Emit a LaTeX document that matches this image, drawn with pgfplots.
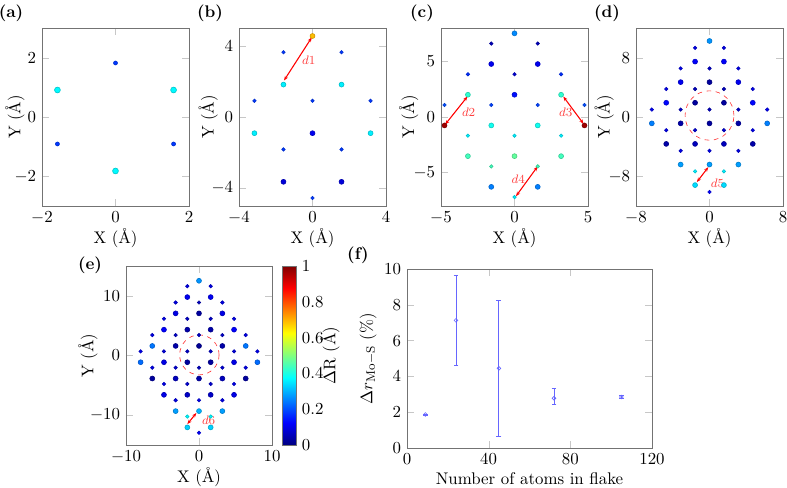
\documentclass[11pt,border=0pt]{standalone}
\usepackage{pgfplots}
\pgfplotsset{compat=1.18}
\usetikzlibrary{arrows.meta}
\pgfplotsset{
  panel/.style={scale only axis, anchor=north west, width=95.55pt, height=115.7pt,
    axis line style={black!55}, tick style={black!22},
    xlabel={X (\AA)}, ylabel={Y (\AA)}, xlab,
    colormap/jet, point meta min=0, point meta max=1},
  ylab/.style={ylabel style={at={(axis description cs:#1,0.5)}, anchor=center}},
  xlab/.style={xlabel style={at={(axis description cs:0.5,-0.178)}, anchor=center}},
  atomB/.style={scatter, only marks, mark=*, mark size=1.6pt, scatter src=explicit},
  atomS/.style={scatter, only marks, mark=*, mark size=1.12pt, scatter src=explicit},
}
\tikzset{
  darrow/.style={{Stealth[length=3pt]}-{Stealth[length=3pt]}, red, line width=0.7pt},
  dlab/.style={text=red!75, font=\scriptsize},
}
\begin{document}
\begin{tikzpicture}
\useasboundingbox (0,0) rectangle (511.55pt,-317.2pt);
% (a)
\begin{axis}[panel, ylab=-0.184, at={(27.3pt,-18.2pt)}, xmin=-2, xmax=2, ymin=-3, ymax=3,
  xtick={-2,0,2}, ytick={-2,0,2}]
\addplot[atomB, mark size=1.9pt] table[meta=c]{
x y c
-1.58 0.91 0.37
1.58 0.91 0.37
0 -1.82 0.37
};
\addplot[atomS, mark size=1.3pt] table[meta=c]{
x y c
0 1.82 0.18
-1.58 -0.91 0.18
1.58 -0.91 0.18
};
\end{axis}
% (b)
\begin{axis}[panel, ylab=-0.21, at={(155.35pt,-18.2pt)}, xmin=-4, xmax=4, ymin=-5, ymax=5,
  xtick={-4,0,4}, ytick={-4,0,4}]
\addplot[atomB] table[meta=c]{
x y c
0 4.55 0.69
-1.58 1.82 0.36
1.58 1.82 0.36
-3.16 -0.91 0.36
3.16 -0.91 0.36
0 -0.91 0.11
-1.58 -3.64 0.09
1.58 -3.64 0.09
};
\addplot[atomS] table[meta=c]{
x y c
-1.58 3.64 0.18
1.58 3.64 0.18
-3.16 0.91 0.18
3.16 0.91 0.18
0 0.91 0.18
-1.58 -1.82 0.18
1.58 -1.82 0.18
0 -4.55 0.18
};
\draw[darrow] (axis cs:-0.04,4.47) -- (axis cs:-1.55,2.05);
\node[dlab] at (axis cs:-0.2,3.17) {$d1$};
\end{axis}
% (c)
\begin{axis}[panel, ylab=-0.219, at={(286.65pt,-18.2pt)}, xmin=-5, xmax=5, ymin=-8, ymax=8,
  xtick={-5,0,5}, ytick={-5,0,5}]
\addplot[atomB] table[meta=c]{
x y c
0 7.52 0.26
-1.58 4.76 0.11
1.58 4.76 0.11
-3.17 2.00 0.42
3.17 2.00 0.42
0 2.00 0.14
-4.76 -0.76 0.97
4.76 -0.76 0.97
-1.58 -0.76 0.39
1.58 -0.76 0.39
-3.17 -3.52 0.44
3.17 -3.52 0.44
0 -3.52 0.47
-1.58 -6.28 0.25
1.58 -6.28 0.25
};
\addplot[atomS] table[meta=c]{
x y c
-1.58 6.60 0.06
1.58 6.60 0.06
-3.17 3.84 0.17
3.17 3.84 0.17
0 3.84 0.08
-4.76 1.08 0.2
4.76 1.08 0.2
-1.58 1.08 0.19
1.58 1.08 0.19
-3.17 -1.68 0.36
3.17 -1.68 0.36
0 -1.68 0.36
-1.58 -4.44 0.44
1.58 -4.44 0.44
0 -7.20 0.36
};
\draw[darrow] (axis cs:-4.72,-0.68) -- (axis cs:-3.2,1.84);
\node[dlab] at (axis cs:-3.12,0.39) {$d2$};
\draw[darrow] (axis cs:3.32,1.84) -- (axis cs:4.7,-0.62);
\node[dlab] at (axis cs:3.48,0.39) {$d3$};
\draw[darrow] (axis cs:1.57,-4.45) -- (axis cs:0.1,-7.12);
\node[dlab] at (axis cs:0.26,-5.55) {$d4$};
\end{axis}
% (d)
\begin{axis}[panel, ylab=-0.216, at={(413.4pt,-18.2pt)}, xmin=-8, xmax=8, ymin=-12, ymax=12,
  xtick={-8,0,8}, ytick={-8,0,8}]
\addplot[atomB] table[meta=c]{
x y c
0 10.25 0.27
-1.57 7.47 0.12
1.57 7.47 0.12
-3.14 4.70 0.11
3.14 4.70 0.11
0 4.70 0.03
-4.71 1.92 0.13
4.71 1.92 0.13
-1.57 1.92 0.03
1.57 1.92 0.03
-6.28 -0.86 0.25
6.28 -0.86 0.25
-3.14 -0.86 0.04
3.14 -0.86 0.04
0 -0.86 0.03
-4.71 -3.63 0.04
4.71 -3.63 0.04
-1.57 -3.63 0.06
1.57 -3.63 0.06
-3.14 -6.41 0.28
3.14 -6.41 0.28
0 -6.41 0.28
-1.57 -9.18 0.34
1.57 -9.18 0.34
};
\addplot[atomS] table[meta=c]{
x y c
-1.57 9.32 0.1
1.57 9.32 0.1
-3.14 6.55 0.1
3.14 6.55 0.1
0 6.55 0.07
-4.71 3.77 0.1
4.71 3.77 0.1
-1.57 3.77 0.06
1.57 3.77 0.06
-6.28 1.0 0.11
6.28 1.0 0.11
-3.14 1.0 0.07
3.14 1.0 0.07
0 1.0 0.06
-4.71 -1.78 0.1
4.71 -1.78 0.1
-1.57 -1.78 0.08
1.57 -1.78 0.08
-3.14 -4.56 0.1
3.14 -4.56 0.1
0 -4.56 0.1
-1.57 -7.33 0.36
1.57 -7.33 0.36
0 -10.11 0.12
};
\draw[red!80, dashed, thin] (axis cs:0,0.2) ellipse [x radius=2.66, y radius=3.33];
\draw[darrow] (axis cs:-0.13,-6.76) -- (axis cs:-1.38,-8.78);
\node[dlab, anchor=west] at (axis cs:-0.5,-8.9) {$d5$};
\end{axis}
% (e)
\begin{axis}[panel, ylab=-0.26, at={(81.9pt,-172.9pt)}, width=94.9pt, height=116.35pt,
  xmin=-10, xmax=10, ymin=-15, ymax=15,
  xtick={-10,0,10}, ytick={-10,0,10},
  colorbar, colorbar shift/.style={xshift=6.5pt},
  colorbar style={at={(parent axis.north east)}, anchor=north west,
    width=9.1pt, ytick={0,0.2,0.4,0.6,0.8,1}, ylabel={$\Delta$R (\AA)},
    ylabel style={at={(axis description cs:3.43,0.5)}, anchor=center},
    axis line style={black!55}, tick style={draw=none}}]
\addplot[atomB] table[meta=c]{
x y c
0 12.52 0.27
-1.6 9.79 0.11
1.6 9.79 0.11
-3.2 7.06 0.1
3.2 7.06 0.1
0 7.06 0.03
-4.8 4.33 0.12
4.8 4.33 0.12
-1.6 4.33 0.04
1.6 4.33 0.04
-6.4 1.60 0.24
6.4 1.60 0.24
-3.2 1.60 0.04
3.2 1.60 0.04
0 1.60 0.02
-8.0 -1.13 0.23
8.0 -1.13 0.23
-4.8 -1.13 0.1
4.8 -1.13 0.1
-1.6 -1.13 0.03
1.6 -1.13 0.03
-6.4 -3.86 0.03
6.4 -3.86 0.03
-3.2 -3.86 0.06
3.2 -3.86 0.06
0 -3.86 0.04
-4.8 -6.59 0.1
4.8 -6.59 0.1
-1.6 -6.59 0.07
1.6 -6.59 0.07
-3.2 -9.32 0.28
3.2 -9.32 0.28
0 -9.32 0.3
-1.6 -12.05 0.33
1.6 -12.05 0.33
};
\addplot[atomS] table[meta=c]{
x y c
-1.6 11.61 0.1
1.6 11.61 0.1
-3.2 8.88 0.1
3.2 8.88 0.1
0 8.88 0.06
-4.8 6.15 0.1
4.8 6.15 0.1
-1.6 6.15 0.07
1.6 6.15 0.07
-6.4 3.42 0.1
6.4 3.42 0.1
-3.2 3.42 0.07
3.2 3.42 0.07
0 3.42 0.07
-8.0 0.69 0.1
8.0 0.69 0.1
-4.8 0.69 0.09
4.8 0.69 0.09
-1.6 0.69 0.07
1.6 0.69 0.07
-6.4 -2.04 0.1
6.4 -2.04 0.1
-3.2 -2.04 0.08
3.2 -2.04 0.08
0 -2.04 0.06
-4.8 -4.77 0.1
4.8 -4.77 0.1
-1.6 -4.77 0.08
1.6 -4.77 0.08
-3.2 -7.50 0.1
3.2 -7.50 0.1
0 -7.50 0.1
-1.6 -10.23 0.37
1.6 -10.23 0.37
0 -12.96 0.12
};
\draw[red!80, dashed, thin] (axis cs:0.05,0.1) ellipse [x radius=2.7, y radius=3.35];
\draw[darrow] (axis cs:-0.36,-9.63) -- (axis cs:-1.6,-11.5);
\node[dlab, anchor=west] at (axis cs:-0.4,-10.9) {$d6$};
\end{axis}
% (f)
\begin{axis}[scale only axis, anchor=north west, at={(264.55pt,-174.85pt)},
  width=159.25pt, height=116.35pt, ylab=-0.159,
  xlabel style={at={(axis description cs:0.5,-0.173)}, anchor=center},
  axis line style={black!55}, tick style={black!22},
  xmin=0, xmax=120, ymin=0, ymax=10,
  xtick={0,40,80,120}, ytick={0,2,4,6,8,10},
  xlabel={Number of atoms in flake},
  ylabel={$\Delta r_{\mathrm{Mo-S}}$ (\%)}]
\addplot[blue!60, only marks, mark=o, mark size=1.2pt,
  error bars/.cd, y dir=both, y explicit,
  error bar style={blue!60, line width=0.5pt},
  error mark options={blue!60, rotate=90, mark size=1.6pt}]
coordinates {
(9,1.87) += (0,0.04) -= (0,0.04)
(24,7.13) += (0,2.52) -= (0,2.49)
(45,4.45) += (0,3.8) -= (0,3.8)
(72,2.78) += (0,0.55) -= (0,0.34)
(105,2.85) += (0,0.07) -= (0,0.07)
};
\end{axis}
\node[font=\bfseries] at (7.15pt,-8.45pt) {(a)};
\node[font=\bfseries] at (136.5pt,-8.45pt) {(b)};
\node[font=\bfseries] at (274.3pt,-8.45pt) {(c)};
\node[font=\bfseries] at (394.55pt,-8.45pt) {(d)};
\node[font=\bfseries] at (58.5pt,-172.25pt) {(e)};
\node[font=\bfseries] at (232.7pt,-165.75pt) {(f)};
\end{tikzpicture}
\end{document}
